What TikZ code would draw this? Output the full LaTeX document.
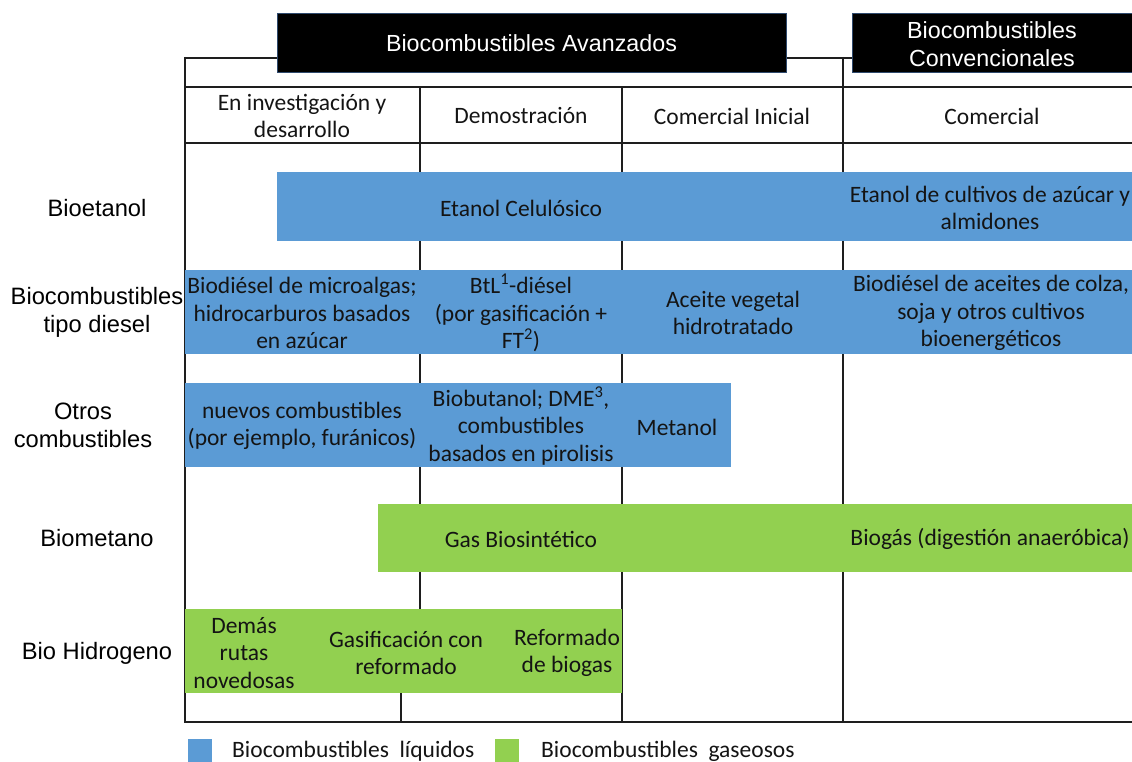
\documentclass[tikz,border=0pt]{standalone}
\usepackage{fontspec}
\setmainfont{Carlito}
\newfontfamily\arialf{Liberation Sans}
\definecolor{barblue}{HTML}{5B9BD5}
\definecolor{bargreen}{HTML}{92D050}
\definecolor{gridc}{HTML}{1E1E1E}
\definecolor{boxedge}{HTML}{2F4A6E}
\definecolor{txt}{HTML}{141414}
\begin{document}
\begin{tikzpicture}[x=1pt,y=-1pt,
  grid/.style={draw=gridc,line width=2pt},
  bar/.style={inner sep=0pt,outer sep=0pt,draw=none},
  cell/.style={inner sep=0pt,align=center,text=txt,font=\fontsize{23.5}{27.5}\selectfont},
  rowlab/.style={inner sep=0pt,align=center,text=black,font=\arialf\fontsize{23.7}{28}\selectfont},
  head/.style={inner sep=0pt,outer sep=0pt,fill=black,draw=boxedge,line width=1pt},
  headtxt/.style={inner sep=0pt,align=center,text=white,font=\arialf\fontsize{23.3}{28}\selectfont},
  legsq/.style={inner sep=0pt,minimum width=24pt,minimum height=23pt}
]
\useasboundingbox (0,0) rectangle (1132,762);
% table grid
\draw[grid] (185,58) -- (852,58);
\draw[grid] (185,87) -- (1132,87);
\draw[grid] (185,143) -- (1132,143);
\draw[grid] (185,722) -- (1132,722);
\draw[grid] (185,57) -- (185,723);
\draw[grid] (420,87) -- (420,609);
\draw[grid] (401,693) -- (401,722);
\draw[grid] (622,87) -- (622,722);
\draw[grid] (843,57) -- (843,722);
% header boxes
\node[head,minimum width=509pt,minimum height=59pt] (hA) at (531.5,43.5) {};
\node[headtxt] (hAt) at (hA.center) {Biocombustibles Avanzados};
\node[head,minimum width=280pt,minimum height=59pt] (hC) at (992,43.5) {};
\node[headtxt] (hCt) at (992,44) {Biocombustibles\\Convencionales};
% column headers
\node[cell] (c1) at (302,116) {En investigación y\\desarrollo};
\node[cell] (c2) at (521,116) {Demostración};
\node[cell] (c3) at (732,116) {Comercial Inicial};
\node[cell] (c4) at (992,116) {Comercial};
% row labels
\node[rowlab] (r1) at (97,208) {Bioetanol};
\node[rowlab] (r2) at (97,312) {Biocombustibles\\tipo diesel};
\node[rowlab] (r3) at (83,425) {Otros\\combustibles};
\node[rowlab] (r4) at (97,538) {Biometano};
\node[rowlab] (r5) at (97,653) {Bio Hidrogeno};
% bars
\node[bar,fill=barblue,minimum width=855pt,minimum height=69pt] (b1) at (704.5,206.5) {};
\node[bar,fill=barblue,minimum width=947pt,minimum height=84pt] (b2) at (658.5,312) {};
\node[bar,fill=barblue,minimum width=546pt,minimum height=84pt] (b3) at (458,425) {};
\node[bar,fill=bargreen,minimum width=754pt,minimum height=68pt] (b4) at (755,538) {};
\node[bar,fill=bargreen,minimum width=437pt,minimum height=84pt] (b5) at (403.5,651) {};
% bar texts
\node[cell] (t11) at (521,208) {Etanol Celulósico};
\node[cell] (t12) at (990,208) {Etanol de cultivos de azúcar y\\almidones};
\node[cell] (t21) at (302,313) {Biodiésel de microalgas;\\hidrocarburos basados\\en azúcar};
\node[cell] (t22) at (521,313) {BtL\textsuperscript{1}-diésel\\(por gasificación +\\FT\textsuperscript{2})};
\node[cell] (t23) at (733,313) {Aceite vegetal\\hidrotratado};
\node[cell] (t24) at (991,313) {Biodiésel de aceites de colza,\\soja y otros cultivos\\bioenergéticos};
\node[cell] (t31) at (302,426) {nuevos combustibles\\(por ejemplo, furánicos)};
\node[cell] (t32) at (521,426) {Biobutanol; DME\textsuperscript{3},\\combustibles\\basados en pirolisis};
\node[cell] (t33) at (677,427) {Metanol};
\node[cell] (t41) at (521,539) {Gas Biosintético};
\node[cell] (t42) at (990,539) {Biogás (digestión anaeróbica)};
\node[cell] (t51) at (244,653) {Demás\\rutas\\novedosas};
\node[cell] (t52) at (406,653) {Gasificación con\\reformado};
\node[cell] (t53) at (567,653) {Reformado\\de biogas};
% legend
\node[legsq,fill=barblue] (l1) at (200,750.5) {};
\node[cell,anchor=west] (l1t) at (232,751) {Biocombustibles\ \ líquidos};
\node[legsq,fill=bargreen] (l2) at (507,750.5) {};
\node[cell,anchor=west] (l2t) at (541,751) {Biocombustibles\ \ gaseosos};
\end{tikzpicture}
\end{document}
